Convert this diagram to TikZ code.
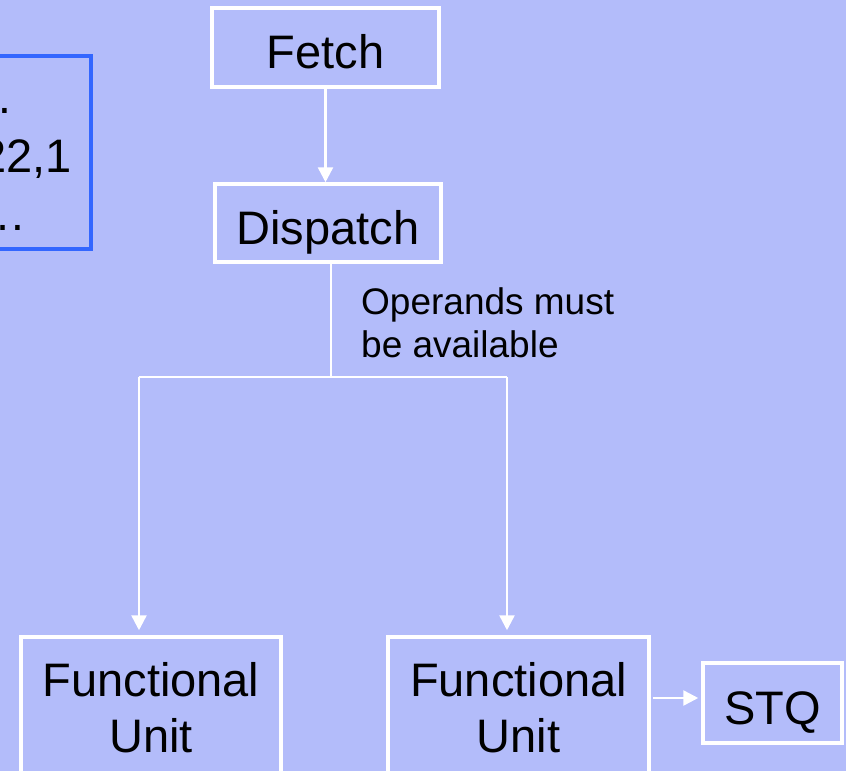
\documentclass[tikz,border=0pt]{standalone}
\usepackage{fontspec}
\setmainfont{Liberation Sans}
\usetikzlibrary{arrows.meta, positioning, calc}

\definecolor{slidebg}{RGB}{179,188,250}
\definecolor{codeframe}{RGB}{51,102,255}

\begin{document}
\begin{tikzpicture}[x=1pt, y=-1pt,
  stage/.style={draw=white, line width=3.5pt, align=center, inner sep=0pt,
    font=\fontsize{47}{56}\selectfont},
  oneline/.style={stage, text height=42pt, text depth=0pt},
  wire/.style={draw=white, line width=2.5pt},
  flow/.style={wire, -{Triangle[width=15pt, length=15pt]}},
  codetext/.style={anchor=base east, inner sep=0pt, font=\fontsize{47}{56}\selectfont}]

% slide background
\useasboundingbox (0,0) rectangle (846,771);
\fill[slidebg] (0,0) rectangle (846,771);
\clip (0,0) rectangle (846,771);

% code listing box (runs off the left side)
\node[draw=codeframe, line width=3.5pt, minimum width=291pt, minimum height=193pt] (code) at (-54.5,152.5) {};
\node[codetext] (codeA) at (14,113) {…};
\node[codetext] (codeB) at (72,172) {22,1};
\node[codetext] (codeC) at (27,230) {…};

% pipeline stages
\node[oneline, minimum width=227pt, minimum height=79pt] (fetch) at (325.5,47.5) {Fetch};
\node[oneline, minimum width=226pt, minimum height=78pt] (disp)  at (328,223) {Dispatch};

\node[stage, minimum width=260pt, minimum height=142pt] (fu1) at (151,708) {Functional\\Unit};
\node[stage, minimum width=261pt, minimum height=142pt] (fu2) at (518.5,708) {Functional\\Unit};
\node[oneline, minimum width=139pt, minimum height=80pt]  (stq) at (772.5,703) {STQ};

\node[anchor=north west, inner sep=0pt, align=left, font=\fontsize{37}{43}\selectfont] (note) at (361,287)
  {Operands must\\be available};

% connections
\coordinate (split) at (331,377);
\coordinate (busL)  at (139,377);
\coordinate (busR)  at (507,377);

\draw[flow] (fetch.south) -- (fetch.south |- disp.north);
\draw[wire] (disp.south -| split) -- (split);
\draw[wire] (busL) -- (busR);
\draw[flow, shorten >=5pt] (busL) -- (busL |- fu1.north);
\draw[flow, shorten >=5pt] (busR) -- (busR |- fu2.north);
\draw[flow, shorten <=2pt, shorten >=3pt] ($(fu2.east)+(0,-10)$) -- ($(stq.west)+(0,-5)$);

\end{tikzpicture}
\end{document}
